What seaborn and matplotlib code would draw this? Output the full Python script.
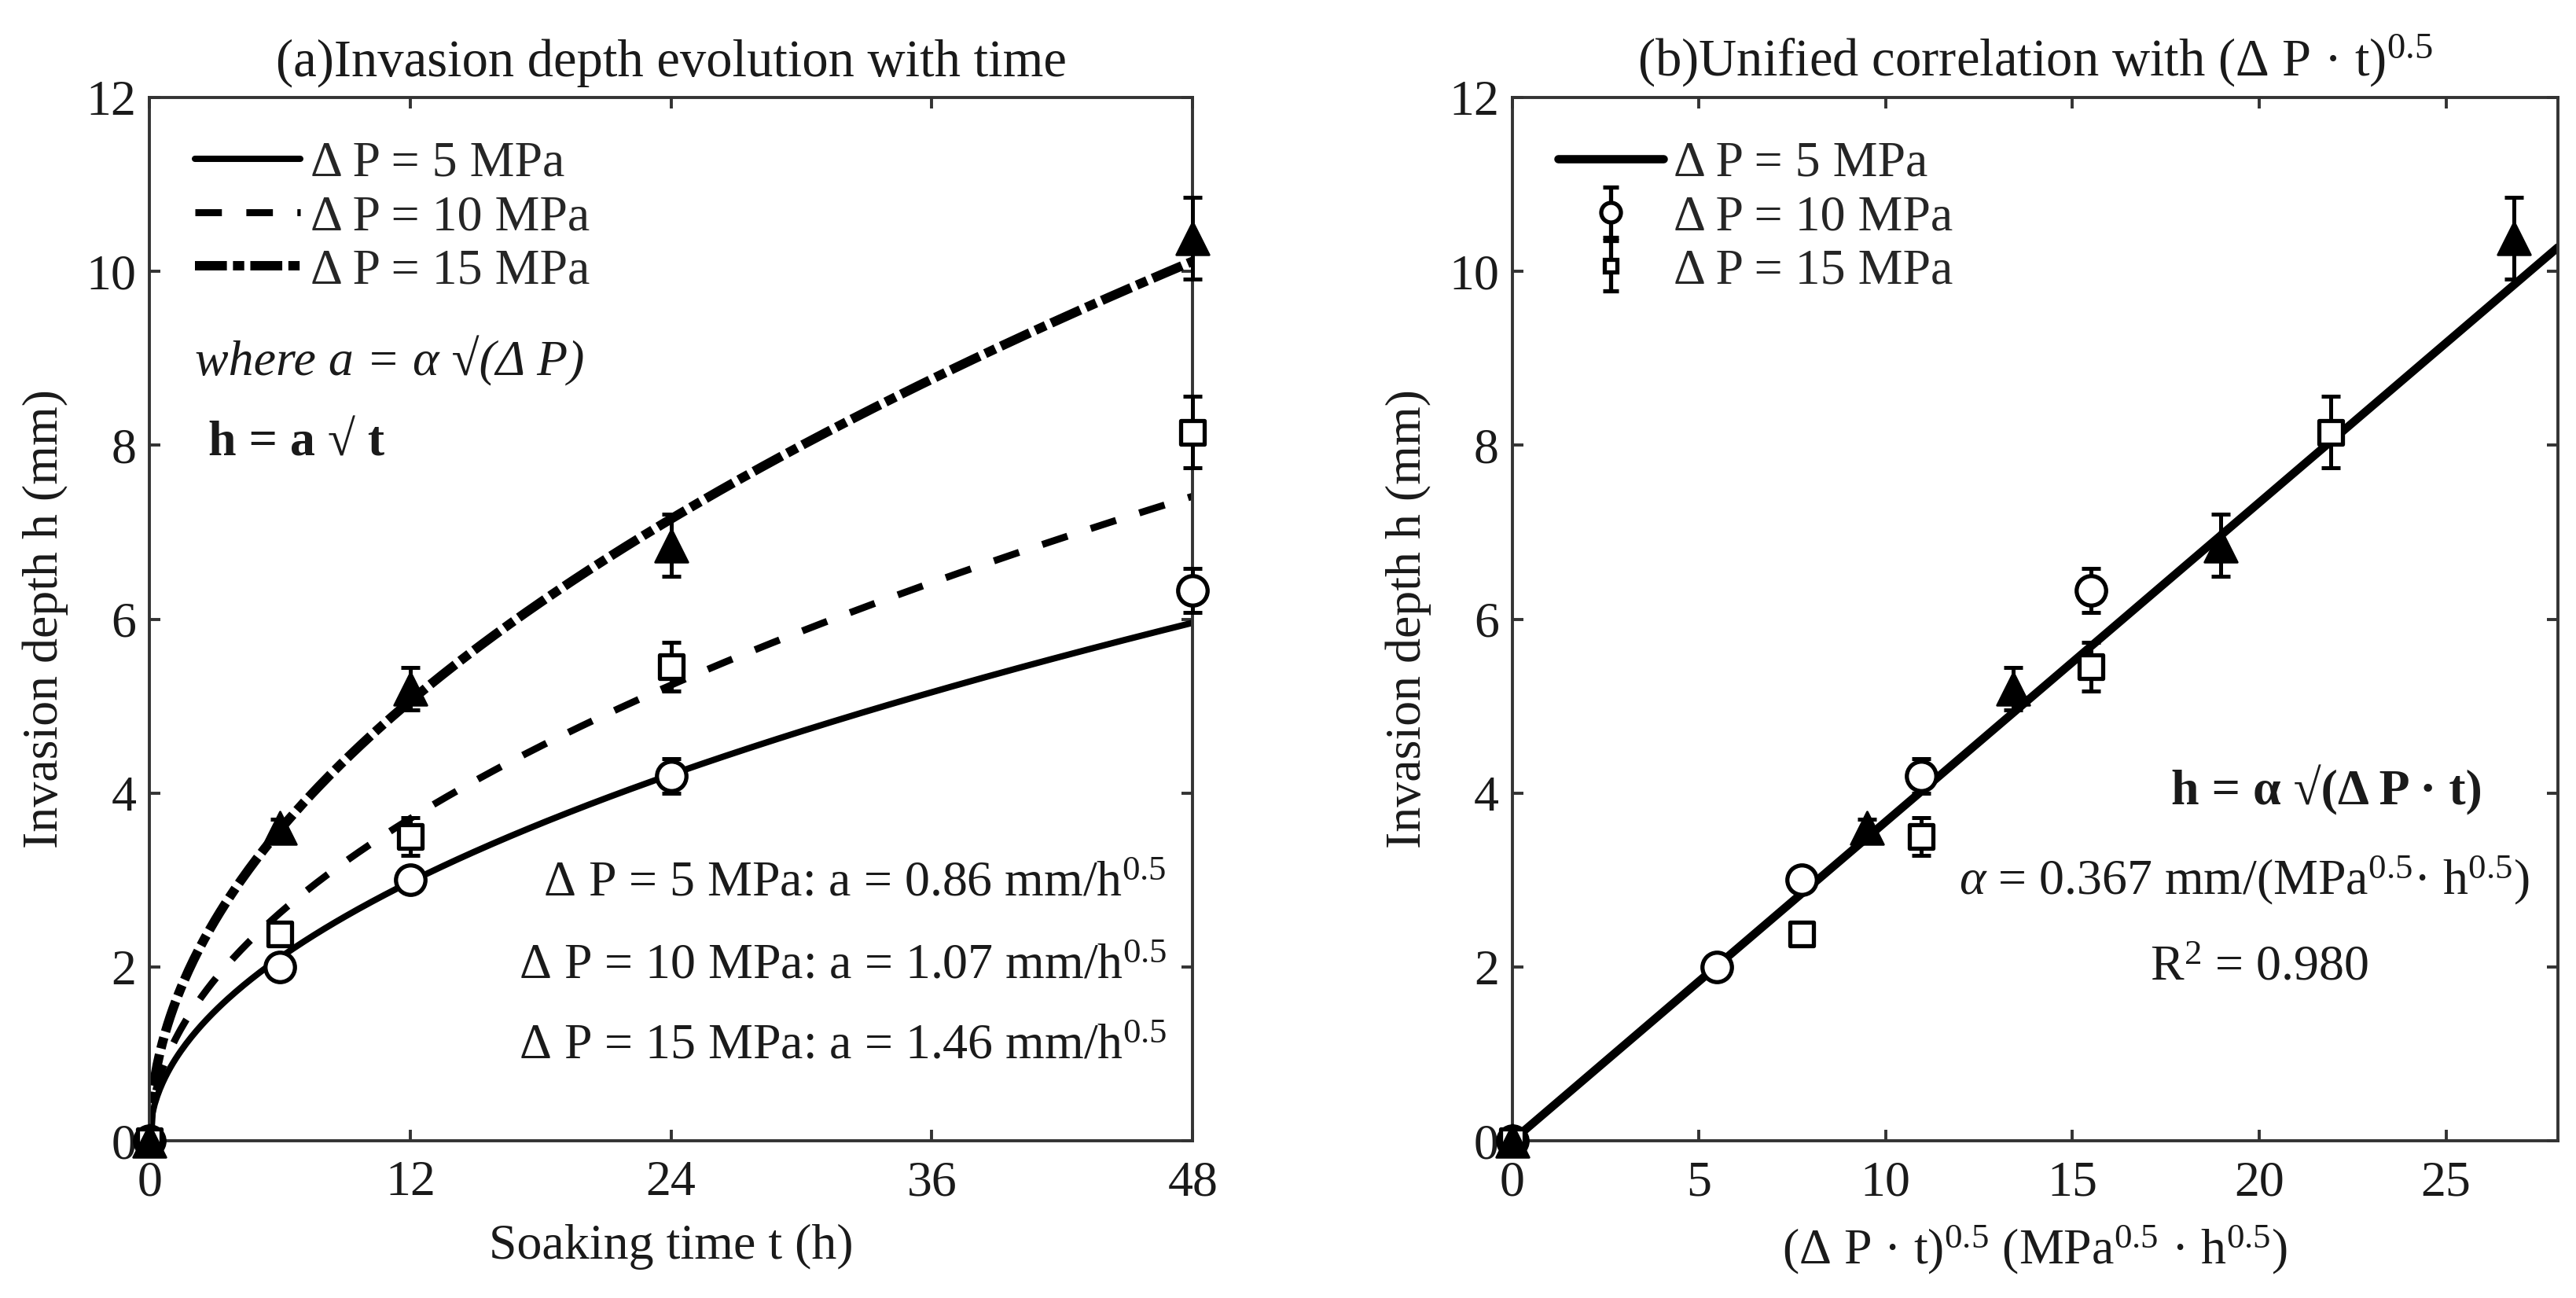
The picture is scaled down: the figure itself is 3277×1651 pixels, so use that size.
import numpy as np
import pandas as pd
import matplotlib
matplotlib.use("Agg")
import matplotlib.pyplot as plt
import seaborn as sns
from matplotlib.lines import Line2D

# ---------------- data ----------------
t_hours = [0, 6, 12, 24, 48]
h_5 = [0, 2.00, 3.00, 4.20, 6.33]
h_10 = [0, 2.38, 3.50, 5.45, 8.15]
h_15 = [0, 3.60, 5.20, 6.85, 10.38]
err_5 = [0, 0.10, 0.06, 0.20, 0.25]
err_10 = [0, 0.13, 0.22, 0.28, 0.41]
err_15 = [0, 0.10, 0.24, 0.36, 0.47]
a_values = [0.86, 1.07, 1.46]          # fitted coefficients (mm/h^0.5)
pressure_labels = ["Δ P = 5 MPa", "Δ P = 10 MPa", "Δ P = 15 MPa"]

# x of panel (b): (ΔP·t)^0.5
x_5 = [0, 5.48, 7.75, 10.95, 15.49]
x_10 = [0, 7.75, 10.95, 15.49, 21.91]
x_15 = [0, 9.49, 13.42, 18.97, 26.83]
alpha_fit = 0.367
x_fit_range = [0, 28]

left_xticks = [0, 12, 24, 36, 48]
right_xticks = [0, 5, 10, 15, 20, 25]
yticks = [0, 2, 4, 6, 8, 10, 12]

# ---------------- style ----------------
sns.set_theme(style="ticks")
plt.rcParams["font.family"] = ["Liberation Serif", "DejaVu Serif"]
plt.rcParams["mathtext.fontset"] = "custom"
plt.rcParams["mathtext.rm"] = "Liberation Serif"
plt.rcParams["mathtext.it"] = "Liberation Serif:italic"
plt.rcParams["mathtext.bf"] = "Liberation Serif:bold"
FS = 23
INK = "#1a1a1a"

fig = plt.figure(figsize=(3277 / 200, 1651 / 200), dpi=200)
axL = fig.add_axes([0.058, 0.121, 0.405, 0.804])
axR = fig.add_axes([0.587, 0.121, 0.406, 0.804])

def style_axes(ax):
    for s in ax.spines.values():
        s.set_linewidth(1.4)
        s.set_color("#333333")
    ax.tick_params(direction="in", length=5, width=1.4, top=True, right=True,
                   labelsize=FS, colors="#333333", labelcolor=INK)
    ax.tick_params(axis="x", pad=9)
    ax.tick_params(axis="y", pad=6)
    ax.set_ylim(0, 12)
    ax.set_yticks(yticks)
    ax.set_ylabel("Invasion depth h (mm)", fontsize=FS, color=INK, labelpad=8)

line_widths = [2.9, 3.2, 4.3]
dash_styles = ["-", (0, (3.8, 3.5)), (0, (3.4, 0.65, 1.2, 0.65))]

# ---------------- panel (a) ----------------
t_dense = np.linspace(0, 48, 400)
for a, ls, lw in zip(a_values, dash_styles, line_widths):
    df = pd.DataFrame({"t": t_dense, "h": a * np.sqrt(t_dense)})
    sns.lineplot(data=df, x="t", y="h", ax=axL, color="black", lw=lw,
                 linestyle=ls, legend=False, zorder=2)

marker_specs = [
    dict(marker="o", ms=13.5, mfc="white", mec="black", mew=1.9),
    dict(marker="s", ms=10.5, mfc="white", mec="black", mew=1.9),
    dict(marker="^", ms=15, mfc="black", mec="black", mew=1.0),
]

def draw_points(ax, xs, hs, es):
    for x, h, e, spec in zip(xs, hs, es, marker_specs):
        eb = ax.errorbar(x, h, yerr=e, fmt="none", ecolor="black", elinewidth=1.8,
                         capsize=4.2, capthick=1.8, zorder=3)
        for art in eb.lines[1] + eb.lines[2]:
            art.set_clip_on(False)
        sns.scatterplot(x=x, y=h, ax=ax, legend=False, zorder=4,
                        marker=spec["marker"], s=spec["ms"] ** 2,
                        facecolor=spec["mfc"], edgecolor=spec["mec"],
                        linewidth=spec["mew"], clip_on=False)

draw_points(axL, [t_hours] * 3, [h_5, h_10, h_15], [err_5, err_10, err_15])

axL.set_xlim(0, 48)
axL.set_xticks(left_xticks)
style_axes(axL)
axL.set_xlabel("Soaking time t (h)", fontsize=FS, color=INK, labelpad=8)
axL.set_title("(a)Invasion depth evolution with time", fontsize=FS + 1, color=INK, pad=10)

handlesL = [Line2D([], [], color="black", lw=lw, linestyle=ls)
            for ls, lw in zip(dash_styles, line_widths)]
axL.legend(handlesL, pressure_labels, loc="upper left", frameon=False, fontsize=FS,
           handlelength=2.1, handletextpad=0.2, labelspacing=0.15,
           bbox_to_anchor=(0.01, 0.992), borderaxespad=0.3)

axL.text(2.1, 8.97, "where a = α √(Δ P)", style="italic", fontsize=FS,
         ha="left", va="center", color=INK)
axL.text(2.7, 8.02, "h = a √ t", fontweight="bold", fontsize=FS,
         ha="left", va="center", color=INK)
for yy, lab, a in zip([2.95, 2.0, 1.08], pressure_labels, a_values):
    axL.text(46.8, yy, f"{lab}: a = {a:.2f} mm/h$^{{0.5}}$", fontsize=FS,
             ha="right", va="center", color=INK)

# ---------------- panel (b) ----------------
xf = np.array(x_fit_range, dtype=float)
sns.lineplot(x=xf, y=alpha_fit * xf, ax=axR, color="black", lw=3.8, legend=False, zorder=2)

draw_points(axR, [x_5, x_10, x_15], [h_5, h_10, h_15], [err_5, err_10, err_15])

axR.set_xlim(0, 28)
axR.set_xticks(right_xticks)
style_axes(axR)
axR.set_xlabel("(Δ P · t)$^{0.5}$ (MPa$^{0.5}$ · h$^{0.5}$)", fontsize=FS, color=INK, labelpad=8)
axR.set_title("(b)Unified correlation with (Δ P · t)$^{0.5}$", fontsize=FS + 1, color=INK, pad=10)

h_line = Line2D([], [], color="black", lw=3.8)
h_c = axR.errorbar([np.nan], [np.nan], yerr=[0.3], fmt="o", ms=9, mfc="white",
                   mec="black", mew=1.9, ecolor="black", elinewidth=1.9,
                   capsize=3.5, capthick=1.9)
h_s = axR.errorbar([np.nan], [np.nan], yerr=[0.3], fmt="s", ms=6, mfc="white",
                   mec="black", mew=1.9, ecolor="black", elinewidth=1.9,
                   capsize=3.5, capthick=1.9)
axR.legend([h_line, h_c, h_s], pressure_labels, loc="upper left", frameon=False,
           fontsize=FS, handlelength=2.1, handletextpad=0.2, labelspacing=0.15,
           bbox_to_anchor=(0.01, 0.992), borderaxespad=0.3)

axR.text(21.8, 4.03, "h = α √(Δ P · t)", fontweight="bold", fontsize=FS,
         ha="center", va="center", color=INK)
axR.text(19.6, 3.0, "$\\alpha$ = 0.367 mm/(MPa$^{0.5}$· h$^{0.5}$)", fontsize=FS,
         ha="center", va="center", color=INK)
axR.text(20.0, 1.99, "R$^{2}$ = 0.980", fontsize=FS, ha="center", va="center", color=INK)

fig.savefig("out.png", dpi=200, facecolor="white")
